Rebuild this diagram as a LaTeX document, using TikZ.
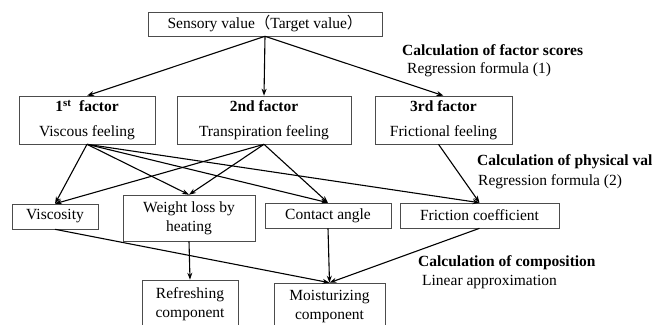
\documentclass[tikz,border=0pt]{standalone}
\usepackage{fontspec}
\setmainfont{Liberation Serif}
\newfontfamily\cjk{Noto Sans CJK JP}
\usetikzlibrary{arrows.meta, positioning}

\begin{document}
\begin{tikzpicture}[
  x=1pt, y=-1pt,
  font=\fontsize{15.5}{19}\selectfont,
  box/.style={rectangle, draw=black!70, line width=0.6pt, inner sep=0pt,
              align=center},
  factor/.style={box, minimum height=48pt, font=\fontsize{15.5}{25}\selectfont},
  arr/.style={-{Stealth[length=7pt, width=5pt]}, line width=1.1pt},
  note/.style={anchor=west, inner sep=0pt},
  head/.style={note, font=\fontsize{15.5}{19}\selectfont\bfseries}
]
  \useasboundingbox (0,0) rectangle (660,324);
  \clip (0,0) rectangle (660,324);

  \node[box, minimum width=234pt, minimum height=24pt] (target) at (265,24) {Sensory value{\cjk （}Target value{\cjk ）}};

  \node[factor, minimum width=136pt] (f1) at (87,120)    {\textbf{1\textsuperscript{st}\ \ factor}\\ Viscous feeling};
  \node[factor, minimum width=174pt] (f2) at (264,120)   {\textbf{2nd factor}\\ Transpiration feeling};
  \node[factor, minimum width=137pt] (f3) at (443.5,120) {\textbf{3rd factor}\\ Frictional feeling};

  \node[box, minimum width=86pt,  minimum height=25pt] (vis) at (55,216.5)   {Viscosity};
  \node[box, minimum width=132pt, minimum height=46pt] (wl)  at (189,218)    {Weight loss by\\ heating};
  \node[box, minimum width=126pt, minimum height=25pt] (ca)  at (328,215.5)  {Contact angle};
  \node[box, minimum width=159pt, minimum height=25pt] (fc)  at (479.5,215.5) {Friction coefficient};

  \node[box, minimum width=96pt,  minimum height=48pt] (rf) at (190,304)   {Refreshing\\ component};
  \node[box, minimum width=111pt, minimum height=48pt] (mo) at (329.5,307) {Moisturizing\\ component};

  \node[head] (calc1) at (402,50)  {Calculation of factor scores};
  \node[note] (reg1)  at (407,70)  {Regression formula (1)};
  \node[head] (calc2) at (477,162) {Calculation of physical val};
  \node[note] (reg2)  at (478,182) {Regression formula (2)};
  \node[head] (calc3) at (418,263) {Calculation of composition};
  \node[note] (reg3)  at (422,282) {Linear approximation};

  \draw[arr] (target.south) -- (f1.north);
  \draw[arr] (target.south) -- (f2.north);
  \draw[arr] (target.south) -- (f3.north);

  \draw[arr] (f1.south) -- (vis.north);
  \draw[arr] (f1.south) -- (wl.north);
  \draw[arr] (f1.south) -- (ca.north);
  \draw[arr] (f1.south) -- (fc.north);
  \draw[arr] (f2.south) -- (vis.north);
  \draw[arr] (f2.south) -- (wl.north);
  \draw[arr] (f2.south) -- (ca.north);
  \draw[arr] ([xshift=-5pt]f3.south) -- (fc.north);

  \draw[arr] (vis.south) -- (mo.north);
  \draw[arr] (wl.south)  -- (rf.north);
  \draw[arr] (ca.south)  -- (mo.north);
  \draw[arr] (fc.south)  -- (mo.north);
\end{tikzpicture}
\end{document}
